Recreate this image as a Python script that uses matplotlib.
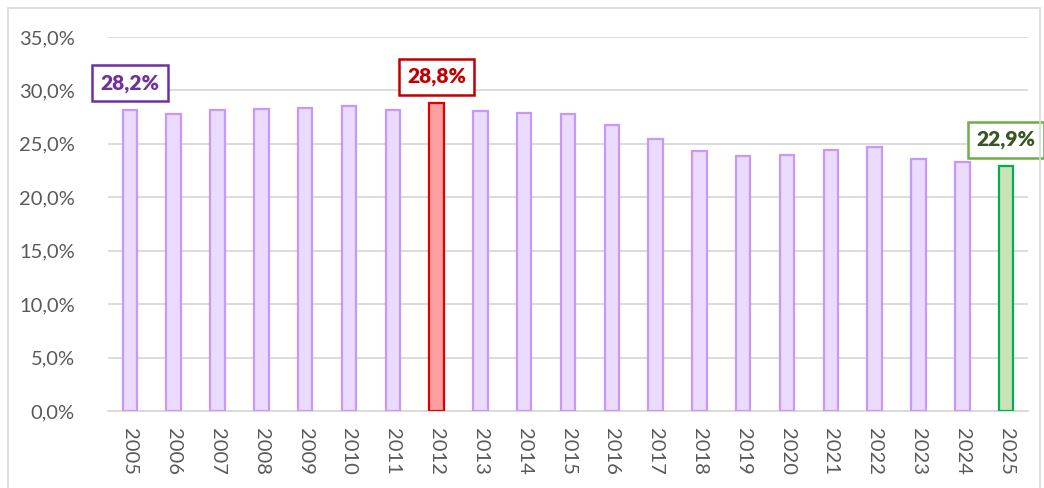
import matplotlib
matplotlib.use("Agg")
import matplotlib.pyplot as plt
from matplotlib.patches import Rectangle
from matplotlib.ticker import FuncFormatter, MultipleLocator

years = [str(y) for y in range(2005, 2026)]
values = [28.2, 27.8, 28.2, 28.3, 28.4, 28.5, 28.2, 28.8, 28.1, 27.9, 27.8,
          26.8, 25.5, 24.3, 23.9, 24.0, 24.4, 24.7, 23.6, 23.3, 22.9]

highlight = {"2005": ("#7030A0", "#7030A0"),
             "2012": ("#C00000", "#C00000"),
             "2025": ("#375623", "#70AD47")}

plt.rcParams['font.family'] = ['Lato', 'DejaVu Sans']

W, H = 1044, 488
fig = plt.figure(figsize=(W / 100, H / 100), dpi=100)
ax = fig.add_axes([108 / W, (H - 411) / H, (1028 - 108) / W, (411 - 37) / H])

face = []
edge = []
for y in years:
    if y == "2012":
        face.append("#FF9F9F"); edge.append("#E00000")
    elif y == "2025":
        face.append("#C9E2B8"); edge.append("#00B050")
    else:
        face.append("#EADBFF"); edge.append("#C798FA")

x = list(range(len(years)))
ax.bar(x, values, width=0.33, color=face, edgecolor=edge, linewidth=1.6, zorder=3)

ax.set_xlim(-0.5, len(years) - 0.5)
ax.set_ylim(0, 35)
ax.yaxis.set_major_locator(MultipleLocator(5))
ax.yaxis.set_major_formatter(FuncFormatter(lambda v, p: f"{v:.1f}%".replace('.', ',')))
ax.grid(axis='y', color='#D9D9D9', linewidth=1.3, zorder=0)
ax.set_axisbelow(True)
for s in ['top', 'right', 'left']:
    ax.spines[s].set_visible(False)
ax.spines['bottom'].set_color('#D9D9D9')
ax.spines['bottom'].set_linewidth(1.3)
ax.set_xticks(x)
ax.set_xticklabels(years, rotation=270)
ax.tick_params(axis='both', length=0, labelsize=14.5, colors='#595959')
ax.tick_params(axis='y', pad=24)
ax.tick_params(axis='x', pad=12)

for i, (y, v) in enumerate(zip(years, values)):
    if y in highlight:
        tc, bc = highlight[y]
        ax.annotate(f"{v:.1f}%".replace('.', ','), xy=(i, v), xytext=(0, 19),
                    textcoords='offset points', ha='center', va='center',
                    fontsize=15, fontweight='heavy', color=tc, zorder=5,
                    bbox=dict(boxstyle='square,pad=0.4', facecolor='white',
                              edgecolor=bc, linewidth=1.8))

fig.patches.append(Rectangle((8 / W, -0.05), (1040 - 8) / W, (H - 8) / H + 0.05,
                             transform=fig.transFigure, fill=False,
                             edgecolor='#D9D9D9', linewidth=1.2))

fig.savefig("out.png", dpi=100)
